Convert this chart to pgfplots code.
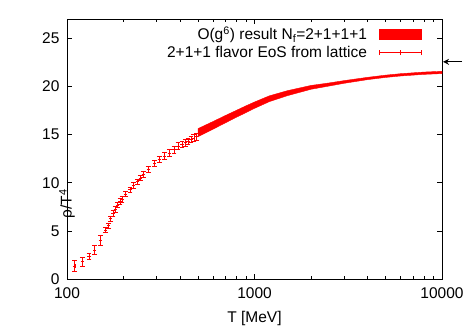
\documentclass[border=0pt]{standalone}
\usepackage{pgfplots}
\pgfplotsset{compat=1.18}
\usepackage{fontspec}
\setmainfont{Liberation Sans}
\usetikzlibrary{arrows.meta}
\begin{document}
\begin{tikzpicture}[font=\fontsize{15.5}{18}\selectfont]
\useasboundingbox (-67pt,-51pt) rectangle (404pt,279pt);
\begin{axis}[
  at={(0,0)}, anchor=south west,
  scale only axis, width=375pt, height=260pt,
  xmode=log, xmin=100, xmax=10000, ymin=0, ymax=27,
  xtick={100,1000,10000}, xticklabels={100,1000,10000},
  ytick={0,5,10,15,20,25},
  /pgf/number format/assume math mode=true,
  major tick length=5pt, minor tick length=3pt,
  axis line style={line width=0.8pt},
  every tick/.style={black, line width=0.6pt},
  xlabel={T [MeV]}, ylabel={ρ/T\textsuperscript{4}},
  xlabel style={at={(axis description cs:0.5,0)}, anchor=center, yshift=-39pt},
  ylabel style={at={(axis description cs:0,0.5)}, anchor=center, xshift=-55pt},
  xticklabel style={yshift=-5pt},
  yticklabel style={xshift=-4pt},
  clip=false,
  legend plot pos=right,
  legend cell align=right,
  legend style={draw=none, fill=none, at={(axis cs:7800,26.4)}, anchor=north east,
    row sep=1pt, inner sep=0pt, font=\fontsize{15.5}{18}\selectfont,
    /tikz/column sep=10pt},
]
\addplot[fill=red, draw=red, line width=0.4pt,
  legend image code/.code={\fill[red] (0pt,-4.6pt) rectangle (42pt,4.6pt);}]
coordinates {
(500,15.62) (600,16.35) (700,16.98) (800,17.51) (900,17.98) (1000,18.38)
(1200,19.02) (1500,19.56) (2000,20.10) (2500,20.36) (3000,20.60) (4000,20.94)
(5000,21.17) (6000,21.32) (8000,21.49) (10000,21.57)
(10000,21.33) (8000,21.25) (6000,21.08) (5000,20.93) (4000,20.70) (3000,20.32)
(2500,20.04) (2000,19.70) (1500,19.04) (1200,18.42) (1000,17.72) (900,17.28)
(800,16.79) (700,16.22) (600,15.55) (500,14.78)
} -- cycle;
\addlegendentry{O(g\textsuperscript{6}) result N\textsubscript{f}=2+1+1+1}
\addplot[red, only marks, mark=+, mark size=1.6pt, mark options={line width=0.5pt},
  error bars/.cd, y dir=both, y explicit,
  error bar style={line width=0.6pt, red},
  error mark options={rotate=90, mark size=2.4pt, line width=0.6pt, red},
  /pgfplots/legend image code/.code={
  \draw[red, line width=0.6pt] (0pt,0pt) -- (42pt,0pt);
  \draw[red, line width=0.6pt] (0pt,-2.4pt) -- (0pt,2.4pt);
  \draw[red, line width=0.6pt] (21pt,-2.4pt) -- (21pt,2.4pt);
  \draw[red, line width=0.6pt] (42pt,-2.4pt) -- (42pt,2.4pt);},
  ] coordinates {
(110,1.35) +- (0,0.55)
(120.7,1.8) +- (0,0.45)
(131,2.35) +- (0,0.35)
(140.5,3.0) +- (0,0.45)
(150.6,4.05) +- (0,0.5)
(160.7,5.1) +- (0,0.3)
(166.8,5.55) +- (0,0.25)
(171,6.26) +- (0,0.3)
(175.8,6.8) +- (0,0.3)
(181,7.26) +- (0,0.3)
(186.4,7.7) +- (0,0.3)
(191.8,8.06) +- (0,0.3)
(196.4,8.3) +- (0,0.3)
(205.4,8.85) +- (0,0.3)
(216.6,9.27) +- (0,0.3)
(226.8,9.7) +- (0,0.3)
(237.3,10.1) +- (0,0.3)
(246,10.5) +- (0,0.3)
(255.5,10.86) +- (0,0.3)
(271.5,11.4) +- (0,0.3)
(292.5,12.0) +- (0,0.3)
(310.8,12.4) +- (0,0.3)
(331.8,12.76) +- (0,0.35)
(351.3,13.1) +- (0,0.35)
(372.4,13.45) +- (0,0.35)
(391,13.8) +- (0,0.35)
(410.6,14.0) +- (0,0.35)
(427.5,14.15) +- (0,0.35)
(442,14.3) +- (0,0.35)
(458,14.5) +- (0,0.35)
(475,14.66) +- (0,0.35)
(492,14.8) +- (0,0.35)
};
\addlegendentry{2+1+1 flavor EoS from lattice}
\draw[-{Stealth[length=6pt,width=6pt]}, line width=1.2pt, black]
  ([xshift=20pt]axis cs:10000,22.55) -- ([xshift=1pt]axis cs:10000,22.55);
\end{axis}
\end{tikzpicture}
\end{document}
